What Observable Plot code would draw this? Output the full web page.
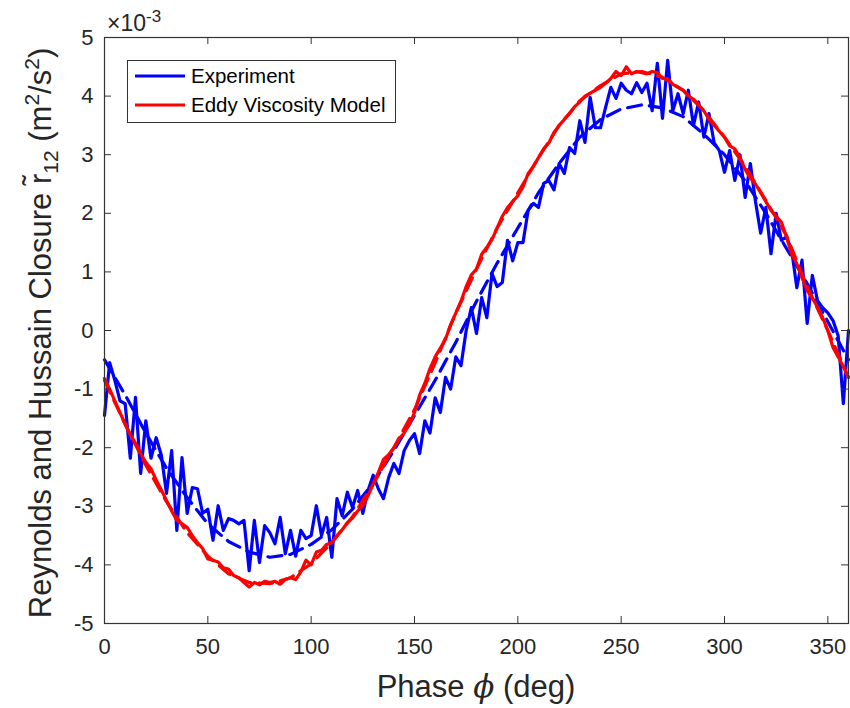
<!DOCTYPE html>
<html>
<head>
<meta charset="utf-8">
<script src="https://cdn.jsdelivr.net/npm/d3@7"></script>
<script src="https://cdn.jsdelivr.net/npm/@observablehq/plot@0.6"></script>
<style>
  body { margin: 0; background: #fff; }
  #chart svg { display: block; }
</style>
</head>
<body>
<div id="chart"></div>
<script>
// ---- Data (values in units of 1e-3 m^2/s^2) ----
const xTicks = [0, 50, 100, 150, 200, 250, 300, 350];
const yTicks = [-5, -4, -3, -2, -1, 0, 1, 2, 3, 4, 5];

// Experiment, sampled every 2.5 deg from 0 to 360
const experiment = [
  -1.45, -0.55, -0.85, -1.20, -1.25, -2.18, -1.14, -2.44, -1.54, -2.18,
  -1.83, -2.13, -2.78, -2.05, -3.41, -2.17, -3.12, -2.68, -2.70, -3.12,
  -3.05, -3.58, -2.99, -3.41, -3.21, -3.24, -3.30, -3.24, -4.10, -3.24,
  -3.96, -3.33, -3.45, -3.64, -3.19, -3.81, -3.41, -3.85, -3.41, -3.55,
  -3.50, -2.99, -3.50, -3.19, -3.87, -2.87, -3.16, -2.76, -3.02, -2.73,
  -3.12, -2.73, -2.47, -2.70, -2.87, -2.51, -2.27, -2.44, -2.05, -1.88,
  -1.76, -2.10, -1.54, -1.75, -1.15, -1.40, -0.80, -1.00, -0.45, -0.60,
   0.00,  0.39, -0.05,  0.56,  0.22,  0.97,  0.75,  0.82,  1.54,  1.19,
   1.50,  1.50,  2.05,  2.17,  2.10,  2.51,  2.56,  2.40,  2.85,  2.68,
   3.12,  3.02,  3.58,  3.21,  3.98,  3.46,  3.46,  3.81,  4.15,  3.96,
   4.22,  4.10,  4.04,  4.23,  4.06,  4.22,  3.75,  4.56,  3.62,  4.61,
   3.75,  4.04,  3.70,  4.10,  3.50,  3.90,  3.30,  3.70,  3.20,  3.07,
   2.70,  3.07,  2.56,  3.00,  2.27,  2.85,  2.20,  1.66,  2.10,  1.31,
   2.00,  1.54,  1.60,  1.37,  0.73,  1.20,  0.12,  0.94,  0.51,  0.39,
   0.30,  0.17, -0.09, -1.25,  0.00
];

// Eddy viscosity model, sampled every 2.5 deg from 0 to 360
const model = [
  -0.82, -1.00, -1.20, -1.40, -1.60, -1.78, -1.92, -2.10, -2.25, -2.36,
  -2.55, -2.72, -2.90, -3.08, -3.24, -3.30, -3.36, -3.50, -3.62, -3.72,
  -3.90, -3.92, -3.95, -4.05, -4.07, -4.18, -4.22, -4.30, -4.38, -4.30,
  -4.34, -4.28, -4.30, -4.28, -4.33, -4.25, -4.22, -4.25, -4.12, -3.92,
  -4.00, -3.78, -3.75, -3.65, -3.62, -3.50, -3.40, -3.28, -3.20, -3.08,
  -2.99, -2.82, -2.62, -2.42, -2.20, -2.12, -2.00, -1.85, -1.75, -1.60,
  -1.40, -1.10, -0.90, -0.65, -0.45, -0.30, -0.15,  0.10,  0.30,  0.50,
   0.75,  0.95,  1.05,  1.30,  1.42,  1.55,  1.75,  1.95,  2.10,  2.20,
   2.30,  2.45,  2.68,  2.80,  2.95,  3.10,  3.20,  3.38,  3.50,  3.60,
   3.70,  3.82,  3.90,  4.00,  4.05,  4.10,  4.15,  4.22,  4.30,  4.42,
   4.35,  4.50,  4.38,  4.42,  4.40,  4.38,  4.42,  4.40,  4.30,  4.30,
   4.20,  4.15,  4.10,  4.00,  3.95,  3.85,  3.75,  3.60,  3.50,  3.40,
   3.30,  3.15,  3.10,  2.95,  2.75,  2.60,  2.50,  2.35,  2.20,  2.05,
   1.95,  1.85,  1.60,  1.30,  1.14,  0.90,  0.68,  0.55,  0.40,  0.22,
   0.00, -0.29, -0.45, -0.62, -0.80
];

// Smoothed (dashed) curves, sampled every 10 deg from 0 to 360
const experimentFit = [
  -0.50, -1.10, -1.75, -2.35, -2.85, -3.30, -3.60, -3.78, -3.87, -3.82,
  -3.65, -3.40, -3.05, -2.60, -2.05, -1.45, -0.85, -0.20,  0.50,  1.15,
   1.75,  2.35,  2.85,  3.30,  3.60,  3.78,  3.85,  3.80,  3.65,  3.35,
   3.00,  2.55,  2.00,  1.40,  0.80,  0.15, -0.50
];
const modelFit = [
  -0.85, -1.60, -2.30, -2.92, -3.45, -3.85, -4.15, -4.30, -4.32, -4.22,
  -3.98, -3.62, -3.18, -2.62, -2.00, -1.35, -0.55,  0.30,  1.05,  1.75,
   2.35,  2.95,  3.50,  3.92,  4.18,  4.38,  4.42,  4.32,  4.10,  3.75,
   3.30,  2.80,  2.22,  1.62,  0.75,  0.00, -0.80
];

const seriesNames = ["Experiment", "Eddy Viscosity Model"];
const seriesColors = ["#0000ff", "#ff0000"];

// ---- Tables ----
const densePhase = d3.range(experiment.length).map(i => i * 2.5);
const coarsePhase = d3.range(experimentFit.length).map(i => i * 10);
const expRows = experiment.map((v, i) => ({phase: densePhase[i], value: v}));
const modelRows = model.map((v, i) => ({phase: densePhase[i], value: v}));
const expFitRows = experimentFit.map((v, i) => ({phase: coarsePhase[i], value: v}));
const modelFitRows = modelFit.map((v, i) => ({phase: coarsePhase[i], value: v}));

// ---- Layout ----
const W = 850, H = 708;
const mL = 104, mR = 2, mT = 37, mB = 85;
const innerW = W - mL - mR, innerH = H - mT - mB;
const tick = 7;
const axisColor = "#333333";
const font = "'Liberation Sans', Arial, Helvetica, sans-serif";
const lw = 3.2;

const chart = Plot.plot({
  width: W,
  height: H,
  marginLeft: mL,
  marginRight: mR,
  marginTop: mT,
  marginBottom: mB,
  style: {fontFamily: font, fontSize: "22px", color: "#262626", background: "#fff"},
  x: {domain: [0, 360]},
  y: {domain: [-5, 5]},
  marks: [
    Plot.line(expFitRows, {x: "phase", y: "value", stroke: seriesColors[0], strokeWidth: lw, strokeDasharray: "14,8"}),
    Plot.line(expRows, {x: "phase", y: "value", stroke: seriesColors[0], strokeWidth: lw, strokeLinejoin: "round"}),
    Plot.line(modelFitRows, {x: "phase", y: "value", stroke: seriesColors[1], strokeWidth: lw, strokeDasharray: "14,8"}),
    Plot.line(modelRows, {x: "phase", y: "value", stroke: seriesColors[1], strokeWidth: lw, strokeLinejoin: "round"}),
    Plot.tickX(xTicks, {x: d => d, stroke: axisColor, insetTop: innerH - tick}),
    Plot.tickX(xTicks, {x: d => d, stroke: axisColor, insetBottom: innerH - tick}),
    Plot.tickY(yTicks, {y: d => d, stroke: axisColor, insetRight: innerW - tick}),
    Plot.tickY(yTicks, {y: d => d, stroke: axisColor, insetLeft: innerW - tick}),
    Plot.frame({stroke: axisColor, strokeWidth: 1.2}),
    Plot.axisX(xTicks, {tickSize: 0, tickPadding: 15, label: null, fontSize: 22, fill: "#262626", tickFormat: d => String(d)}),
    Plot.axisY(yTicks, {tickSize: 0, tickPadding: 11, label: null, fontSize: 22, fill: "#262626", tickFormat: d => String(d)})
  ]
});

document.getElementById("chart").appendChild(chart);

// ---- Annotations (titles, exponent, legend) ----
const svg = d3.select(chart);

// x label
const xl = svg.append("text")
  .attr("x", mL + innerW / 2).attr("y", 697)
  .attr("text-anchor", "middle")
  .attr("fill", "#262626")
  .style("font-family", font).style("font-size", "31px");
xl.append("tspan").text("Phase ");
xl.append("tspan").style("font-style", "italic").style("font-family", "'DejaVu Serif', serif").text("\u03D5");
xl.append("tspan").text(" (deg)");

// y label
const yl = svg.append("text")
  .attr("transform", `translate(51,333) rotate(-90)`)
  .attr("text-anchor", "middle")
  .attr("fill", "#262626")
  .style("font-family", font).style("font-size", "31px");
yl.append("tspan").text("Reynolds and Hussain Closure r\u0303");
yl.append("tspan").attr("dy", 7).style("font-size", "21px").text("12");
yl.append("tspan").attr("dy", -7).text(" (m");
yl.append("tspan").attr("dy", -12).style("font-size", "21px").text("2");
yl.append("tspan").attr("dy", 12).text("/s");
yl.append("tspan").attr("dy", -12).style("font-size", "21px").text("2");
yl.append("tspan").attr("dy", 12).text(")");

// exponent
const ex = svg.append("text")
  .attr("x", 107).attr("y", 31)
  .attr("text-anchor", "start")
  .attr("fill", "#262626")
  .style("font-family", font).style("font-size", "23px");
ex.append("tspan").text("\u00D710");
ex.append("tspan").attr("dy", -9).style("font-size", "17px").text("-3");

// legend
const lg = svg.append("g");
lg.append("rect")
  .attr("x", 127.5).attr("y", 60.5).attr("width", 268).attr("height", 62)
  .attr("fill", "#fff").attr("stroke", axisColor).attr("stroke-width", 1);
seriesNames.forEach((name, i) => {
  const cy = 76 + i * 29;
  lg.append("line")
    .attr("x1", 135).attr("x2", 185).attr("y1", cy).attr("y2", cy)
    .attr("stroke", seriesColors[i]).attr("stroke-width", 3);
  lg.append("text")
    .attr("x", 191).attr("y", cy + 7)
    .attr("text-anchor", "start")
    .attr("fill", "#000")
    .style("font-family", font).style("font-size", "20.5px")
    .text(name);
});
</script>
</body>
</html>
